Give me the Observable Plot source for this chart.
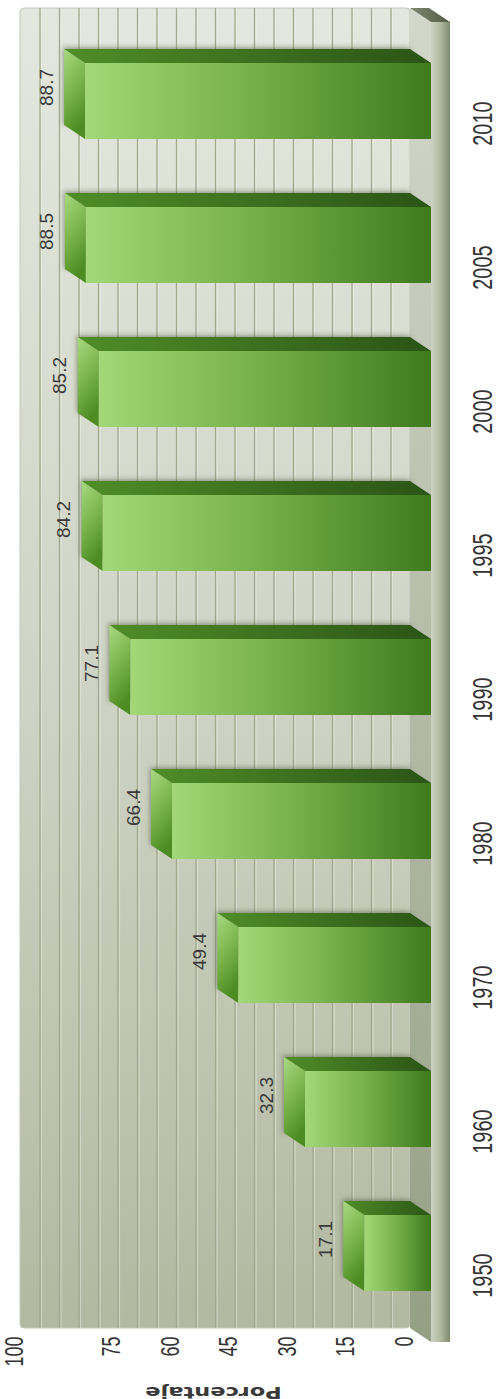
<!DOCTYPE html>
<html>
<head>
<meta charset="utf-8">
<script src="https://cdn.jsdelivr.net/npm/d3@7"></script>
<script src="https://cdn.jsdelivr.net/npm/@observablehq/plot@0.6"></script>
<style>
  html, body { margin: 0; padding: 0; background: #ffffff; }
  #chart svg { display: block; }
</style>
</head>
<body>
<div id="chart"></div>
<script>
// ---- data ----
const years = ["1950", "1960", "1970", "1980", "1990", "1995", "2000", "2005", "2010"];
const values = [17.1, 32.3, 49.4, 66.4, 77.1, 84.2, 85.2, 88.5, 88.7];
const axisTicks = [0, 15, 30, 45, 60, 75, 100];
const gridTicks = [5, 10, 15, 20, 25, 30, 35, 40, 45, 50, 55, 60, 65, 70, 75, 80, 85, 90, 95];
const axisTitle = "Porcentaje";

const data = years.map((year, i) => ({year, value: values[i]}));

// 3D depth (pixels)
const DX = 21, DY = 14;

function defsMark() {
  const defs = d3.create("svg:defs");
  const lin = (id, attrs, stops) => {
    const g = defs.append("linearGradient").attr("id", id);
    for (const k in attrs) g.attr(k, attrs[k]);
    stops.forEach(([o, c]) => g.append("stop").attr("offset", o).attr("stop-color", c));
  };
  lin("gFront", {x1: 0, y1: 0, x2: 1, y2: 0}, [[0, "#a2d877"], [0.45, "#79b34d"], [1, "#3e7b1c"]]);
  lin("gTop", {x1: 0, y1: 0, x2: 1, y2: 0}, [[0, "#4f8e27"], [1, "#2b5416"]]);
  lin("gLeft", {x1: 0, y1: 0, x2: 0.3, y2: 1}, [[0, "#a8da80"], [0.55, "#78b34a"], [1, "#4c8c22"]]);
  lin("gWall", {x1: 0, y1: 0, x2: 0, y2: 1}, [[0, "#e4e7dd"], [0.5, "#d0d4c6"], [1, "#b2b9a0"]]);
  lin("gFloorTop", {x1: 0, y1: 0, x2: 0, y2: 1}, [[0, "#d3d8ca"], [1, "#959f84"]]);
  lin("gFloorEdge", {x1: 0, y1: 0, x2: 1, y2: 0}, [[0, "#ccd2c1"], [0.5, "#b0b89e"], [1, "#7f8a6b"]]);
  lin("gCap", {x1: 0, y1: 0, x2: 1, y2: 0}, [[0, "#7d8770"], [1, "#545e46"]]);
  const f = defs.append("filter").attr("id", "blurShadow").attr("x", "-20%").attr("y", "-50%").attr("width", "140%").attr("height", "200%");
  f.append("feGaussianBlur").attr("stdDeviation", 2.6);
  return defs.node();
}

function wallMark(index, scales, values, dim) {
  const x = scales.x;
  const g = d3.create("svg:g");
  const top = dim.marginTop, bottom = dim.height - dim.marginBottom;
  g.append("rect")
    .attr("x", x(100)).attr("y", top)
    .attr("width", x(0) - x(100)).attr("height", bottom - top)
    .attr("rx", 4)
    .attr("fill", "url(#gWall)")
    .attr("stroke", "#c3c8b8").attr("stroke-width", 1);
  return g.node();
}

function floorMark(index, scales, values, dim) {
  const x = scales.x;
  const g = d3.create("svg:g");
  const top = dim.marginTop, bottom = dim.height - dim.marginBottom;
  const x0 = x(0);
  const EDGE = 19;
  g.append("path").attr("d", `M${x0},${top}L${x0 + DX},${top + DY}L${x0 + DX},${bottom + DY}L${x0},${bottom}Z`)
    .attr("fill", "url(#gFloorTop)");
  g.append("path").attr("d", `M${x0 + DX},${top + DY}L${x0 + DX + EDGE},${top + DY}L${x0 + DX + EDGE},${bottom + DY}L${x0 + DX},${bottom + DY}Z`)
    .attr("fill", "url(#gFloorEdge)");
  g.append("path").attr("d", `M${x0},${top}L${x0 + EDGE},${top}L${x0 + DX + EDGE},${top + DY}L${x0 + DX},${top + DY}Z`)
    .attr("fill", "url(#gCap)");
  return g.node();
}

function barShadowMark(index, scales) {
  const x = scales.x, y = scales.y;
  const bw = typeof y.bandwidth === "function" ? y.bandwidth() : 76;
  const g = d3.create("svg:g").attr("filter", "url(#blurShadow)");
  for (const d of data) {
    const yt = y(d.year);
    g.append("rect")
      .attr("x", x(d.value) - 1).attr("y", yt - DY - 1.5)
      .attr("width", x(0) - x(d.value) + 1).attr("height", bw + 1)
      .attr("fill", "#4d5540").attr("fill-opacity", 0.55);
  }
  return g.node();
}

function barSidesMark(index, scales) {
  const x = scales.x, y = scales.y;
  const bw = typeof y.bandwidth === "function" ? y.bandwidth() : 76;
  const g = d3.create("svg:g");
  for (const d of data) {
    const yt = y(d.year), xv = x(d.value), x0 = x(0);
    g.append("path")
      .attr("d", `M${xv},${yt - DY}L${x0},${yt - DY}L${x0 + DX},${yt}L${xv + DX},${yt}Z`)
      .attr("fill", "url(#gTop)");
    g.append("path")
      .attr("d", `M${xv},${yt - DY}L${xv + DX},${yt}L${xv + DX},${yt + bw}L${xv},${yt + bw - DY}Z`)
      .attr("fill", "url(#gLeft)");
  }
  return g.node();
}

const chart = Plot.plot({
  width: 501,
  height: 1399,
  marginTop: 8,
  marginBottom: 71,
  marginLeft: 20,
  marginRight: 91,
  style: {background: "transparent", fontFamily: "Liberation Sans, Arial, sans-serif", overflow: "visible"},
  x: {domain: [0, 100], range: [410, 20], axis: null},
  y: {domain: years.slice().reverse(), range: [59, 1294], paddingInner: 0.4755, paddingOuter: 0, axis: null},
  marks: [
    defsMark,
    wallMark,
    Plot.ruleX(gridTicks, {x: d => d, stroke: "#a0a98d", strokeWidth: 1.3}),
    Plot.ruleX(gridTicks, {x: d => d, dx: 1.6, stroke: "#f4f6f0", strokeOpacity: 0.45, strokeWidth: 1}),
    floorMark,
    barShadowMark,
    barSidesMark,
    Plot.barX(data, {x: "value", y: "year", dx: DX, fill: "url(#gFront)"}),
    // value labels
    Plot.text(data, {
      x: "value", y: "year", text: d => d.value.toFixed(1),
      rotate: -90, dx: -18, dy: -DY, fontSize: 19, fill: "#3a3a3a"
    }),
    // year labels
    Plot.text(data, {
      y: "year", text: "year", frameAnchor: "right",
      rotate: -90, dx: 73, fontSize: 28, fill: "#333333"
    }),
    // value-axis tick labels
    Plot.text(axisTicks, {
      x: d => d, text: d => String(d), frameAnchor: "bottom",
      rotate: -90, textAnchor: "end", dx: 2, dy: 8, fontSize: 25, fill: "#333333"
    }),
    // axis title
    Plot.text([axisTitle], {
      text: d => d, frameAnchor: "bottom",
      rotate: 180, dy: 58, dx: -2, fontSize: 15, fontWeight: "bold",
      fontFamily: "DejaVu Sans", fill: "#3a3a3a"
    })
  ]
});

document.getElementById("chart").appendChild(chart);

// condense / stretch labels along their reading direction
const textGroups = chart.querySelectorAll('g[aria-label="text"]');
function stretch(g, sx) {
  if (!g) return;
  g.querySelectorAll("text").forEach(t => {
    const tr = t.getAttribute("transform") || "";
    t.setAttribute("transform", tr + ` scale(${sx},1)`);
  });
}
stretch(textGroups[1], 0.71);
stretch(textGroups[2], 0.72);
stretch(textGroups[3], 1.5);
</script>
</body>
</html>
